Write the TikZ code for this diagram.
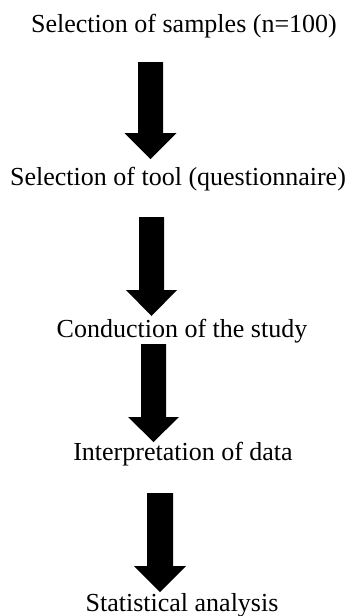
\documentclass[tikz,border=0pt]{standalone}
\usepackage{fontspec}
\setmainfont{Liberation Serif}
\tikzset{
  lbl/.style={anchor=base, inner sep=0pt, font=\fontsize{26}{30}\selectfont},
  fatarrow/.style={fill=black, draw=none}
}
% #1 centre x, #2 top, #3 head base, #4 tip, #5 shaft half width, #6 head half width
\newcommand\fatarr[6]{%
  \fill[fatarrow] ({#1-#5},#2) -- ({#1+#5},#2) -- ({#1+#5},#3) -- ({#1+#6},#3)
    -- (#1,#4) -- ({#1-#6},#3) -- ({#1-#5},#3) -- cycle;}
\begin{document}
\begin{tikzpicture}[x=1pt,y=-1pt]
\useasboundingbox (0,0) rectangle (356,616);
\node[lbl] (s1) at (184,32) {Selection of samples (n=100)};
\node[lbl] (s2) at (178,185) {Selection of tool (questionnaire)};
\node[lbl] (s3) at (182,337) {Conduction of the study};
\node[lbl] (s4) at (183,460) {Interpretation of data};
\node[lbl] (s5) at (182,611) {Statistical analysis};
\fatarr{150.5}{62}{133}{159}{12.5}{26}
\fatarr{151.5}{217}{290}{316}{12.5}{25.5}
\fatarr{153.5}{344}{417}{442}{12.5}{25.5}
\fatarr{160}{493}{566}{592}{13}{26}
\end{tikzpicture}
\end{document}
